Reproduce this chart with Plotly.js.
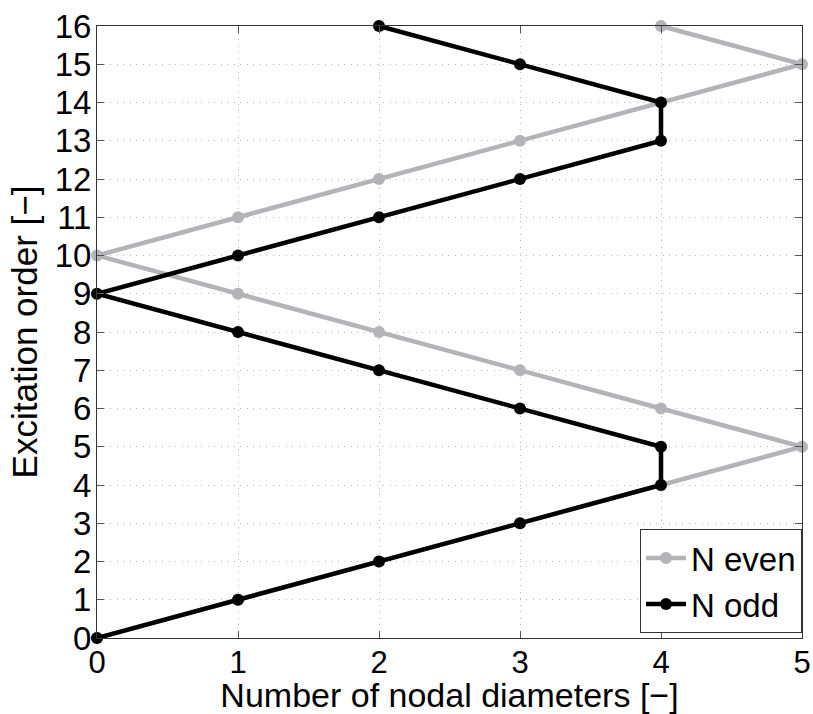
<!DOCTYPE html>
<html><head><meta charset="utf-8">
<script src="https://cdn.plot.ly/plotly-3.0.1.min.js"></script>
<style>body{margin:0;padding:0;background:#fff}#plot{width:813px;height:714px}</style>
</head><body><div id="plot"></div>
<script>
const evenX = [0,1,2,3,4,5,4,3,2,1,0,1,2,3,4,5,4];
const evenY = [0,1,2,3,4,5,6,7,8,9,10,11,12,13,14,15,16];
const oddX = [0,1,2,3,4,4,3,2,1,0,1,2,3,4,4,3,2];
const oddY = [0,1,2,3,4,5,6,7,8,9,10,11,12,13,14,15,16];
const xTicks = [0,1,2,3,4,5];
const yTicks = [0,1,2,3,4,5,6,7,8,9,10,11,12,13,14,15,16];
const font = 'Liberation Sans, Arial, sans-serif';
const data = [
  {x: evenX, y: evenY, name: 'N even', mode: 'lines+markers', type: 'scatter',
   line: {color: '#b3b3b8', width: 4.5}, marker: {color: '#b3b3b8', size: 12}, cliponaxis: false},
  {x: oddX, y: oddY, name: 'N odd', mode: 'lines+markers', type: 'scatter',
   line: {color: '#000000', width: 4.5}, marker: {color: '#000000', size: 12}, cliponaxis: false}
];
const axCommon = {
  showline: true, linecolor: '#333', linewidth: 1, mirror: 'ticks',
  ticks: 'inside', ticklen: 7, tickcolor: '#555',
  showgrid: true, gridcolor: '#b8b8b8', griddash: '1px,5.5px', gridwidth: 1,
  zeroline: false, tickfont: {family: font, size: 33, color: '#000'}
};
const layout = {
  width: 813, height: 714,
  margin: {l: 97, r: 11, t: 26, b: 76},
  paper_bgcolor: '#fff', plot_bgcolor: '#fff',
  showlegend: true,
  legend: {x: 1, y: 0.008, xanchor: 'right', yanchor: 'bottom', bgcolor: '#fff',
    bordercolor: '#333', borderwidth: 1, font: {family: font, size: 33, color: '#000'},
    tracegroupgap: 0, itemwidth: 40},
  xaxis: Object.assign({}, axCommon, {range: [0,5], tickvals: xTicks, ticktext: xTicks.map(String),
    ticklabelstandoff: -3, tickfont: {family: font, size: 31, color: '#000'},
    title: {text: 'Number of nodal diameters [−]', font: {family: font, size: 34, color: '#000'}, standoff: 4}}),
  yaxis: Object.assign({}, axCommon, {range: [0,16], tickvals: yTicks, ticktext: yTicks.map(String),
    ticklabelstandoff: -2,
    title: {text: 'Excitation order [−]', font: {family: font, size: 35, color: '#000'}, standoff: 6}})
};
Plotly.newPlot('plot', data, layout, {displayModeBar: false});
</script></body></html>
